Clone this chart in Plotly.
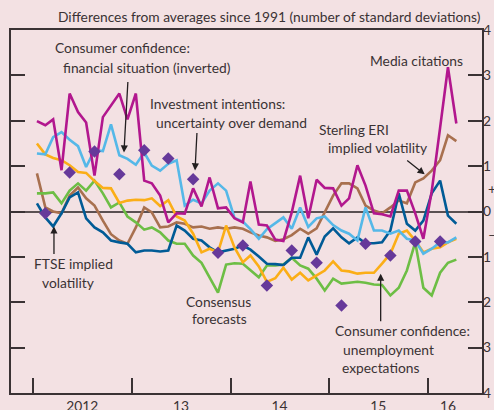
import pandas as pd
import plotly.graph_objects as go

# ---------------- data ----------------
months = pd.date_range("2012-01-01", "2016-04-01", freq="MS") + pd.Timedelta(days=14)
quarters = pd.date_range("2012-02-01", "2016-02-01", freq="3MS") + pd.Timedelta(days=14)

media_citations = [1.99, 1.90, 2.03, 0.91, 2.60, 2.19, 1.96, 0.79, 2.08, 2.35, 2.60, 2.03, 2.60, 0.68, 0.62, 0.35, -0.24, -0.04,
                   -0.05, 0.51, 0.11, 0.75, 0.07, 0.09, -0.15, -0.24, 0.66, -0.29, -0.31, -0.62, -0.65, -0.02, 0.79, -0.15, 0.70,
                   0.52, 0.51, 0.13, 0.29, 1.02, 0.57, -0.04, -0.06, -0.11, 0.46, 0.46, -0.04, -0.60, 0.45, 1.85, 3.18, 1.94]
financial_situation = [1.28, 1.26, 1.64, 1.75, 1.58, 1.44, 0.98, 1.35, 1.33, 1.92, 1.24, 1.16, 1.03, 1.30, 1.01, 0.90, 1.05, 1.13,
                       0.13, 0.26, 0.18, 0.46, 0.62, 0.46, -0.14, -0.22, -0.39, -0.60, -0.39, -0.26, -0.13, -0.38, 0.09, -0.34, -0.15,
                       -0.11, -0.30, -0.42, -0.49, -0.64, 0.09, -0.42, -0.42, -0.49, -0.42, -0.60, -0.64, -0.93, -0.82, -0.68, -0.68, -0.57]
unemployment_expectations = [1.50, 1.26, 1.18, 1.13, 1.02, 0.87, 0.85, 0.67, 0.52, 0.51, 0.19, 0.24, 0.26, 0.25, 0.29, 0.12, 0.25, -0.11,
                             -0.20, -0.49, -0.90, -0.82, -0.90, -0.31, -0.79, -1.12, -0.97, -1.21, -1.55, -1.47, -1.24, -1.50, -1.35, -1.52, -1.41,
                             -1.30, -1.10, -1.30, -1.32, -1.37, -1.35, -1.35, -1.15, -0.93, -0.49, -0.42, -0.64, -0.90, -0.82, -0.79, -0.68, -0.60]
consensus_forecasts = [0.40, 0.40, 0.42, 0.18, 0.46, 0.62, 0.46, 0.68, 0.40, 0.09, 0.20, -0.11, -0.24, -0.40, -0.35, -0.46, -0.64, -0.71,
                       -0.71, -0.97, -1.13, -1.46, -1.79, -1.17, -1.14, -1.15, -1.30, -1.45, -1.19, -1.19, -1.17, -1.02, -1.19, -1.26, -1.48,
                       -1.74, -1.48, -1.59, -1.57, -1.55, -1.57, -1.61, -1.62, -1.85, -1.68, -1.30, -0.68, -1.68, -1.85, -1.35, -1.13, -1.06]
ftse_volatility = [0.18, -0.13, -0.33, -0.04, 0.31, 0.42, -0.15, -0.35, -0.46, -0.64, -0.68, -0.71, -0.90, -0.86, -0.86, -0.88, -0.86, -0.31,
                   -0.42, -0.60, -0.64, -0.79, -0.90, -0.86, -0.82, -0.75, -0.84, -0.99, -1.15, -1.16, -1.18, -1.02, -1.02, -0.57, -0.95,
                   -0.55, -0.37, -0.57, -0.70, -0.57, -0.70, -0.70, -0.68, -0.42, 0.40, -0.27, -0.42, -0.20, 0.40, 0.68, -0.09, -0.27]
sterling_eri_volatility = [0.84, 0.09, 0.00, -0.04, 0.35, 0.53, 0.29, 0.13, -0.20, -0.50, -0.64, -0.71, -0.35, 0.09, -0.02, -0.35, -0.33, -0.24,
                           -0.27, -0.35, -0.33, -0.38, -0.35, -0.38, -0.35, -0.38, -0.46, -0.53, -0.57, -0.65, -0.61, -0.52, -0.38, -0.49, -0.37,
                           -0.02, 0.35, 0.62, 0.62, 0.51, 0.13, 0.02, -0.04, 0.09, 0.24, 0.18, 0.64, 0.73, 0.90, 1.13, 1.68, 1.55]
investment_uncertainty = [-0.04, 0.86, 1.32, 0.82, 1.35, 1.17, 0.71, -0.91, -0.75, -1.63, -0.86, -1.13, -2.07, -0.71, -0.97, -0.66, -0.66]

year_tick_vals = ["2012-07-01", "2013-07-01", "2014-07-01", "2015-07-01", "2016-03-15"]
year_tick_text = ["2012", "13", "14", "15", "16"]
y_tick_vals = [-4, -3, -2, -1, 0, 1, 2, 3, 4]
y_tick_text = ["4", "3", "2", "1", "0", "1", "2", "3", "4"]

# ---------------- style ----------------
BG = "#F3E1E3"
INK = "#3a3234"
FONT = "Lato"
FS = 13.8
W, H = 494, 410
L, R, T, B = 11, 12, 30, 17
PW, PH = W - L - R, H - T - B


def px(x):
    return (x - L) / PW


def py(y):
    return (H - B - y) / PH


fig = go.Figure()

series = [
    (sterling_eri_volatility, "#A8704F"),
    (consensus_forecasts, "#6DBE45"),
    (ftse_volatility, "#005B96"),
    (unemployment_expectations, "#FBAE17"),
    (financial_situation, "#55B8E8"),
    (media_citations, "#B2178E"),
]
for vals, col in series:
    fig.add_trace(go.Scatter(x=months, y=vals, mode="lines",
                             line=dict(color=col, width=2.6), showlegend=False))

fig.add_trace(go.Scatter(x=quarters, y=investment_uncertainty, mode="markers",
                         marker=dict(symbol="diamond", size=9.6, color="#66399A"),
                         showlegend=False))

fig.add_trace(go.Scatter(x=[months[0]], y=[0], yaxis="y2", mode="markers",
                         marker=dict(opacity=0), showlegend=False, hoverinfo="skip"))

fig.update_layout(
    width=W, height=H,
    margin=dict(l=L, r=R, t=T, b=B, autoexpand=False),
    paper_bgcolor=BG, plot_bgcolor=BG,
    font=dict(family=FONT, size=FS, color=INK),
    xaxis=dict(type="date", range=["2011-10-11", "2016-07-19"], automargin=False,
               showgrid=False, zeroline=False,
               showline=True, linecolor=INK, linewidth=1.5, mirror=True,
               tickvals=year_tick_vals, ticktext=year_tick_text, ticks="",
               tickfont=dict(size=FS, color=INK),
               minor=dict(ticks="inside", ticklen=15, tickwidth=1.5, tickcolor=INK,
                          tick0="2012-01-01", dtick="M12", showgrid=False)),
    yaxis=dict(range=[-4, 4], showgrid=False, automargin=False,
               zeroline=True, zerolinecolor="#5a5052", zerolinewidth=1.5,
               showline=True, linecolor=INK, linewidth=1.5, mirror=True,
               tickvals=y_tick_vals, ticks="inside", ticklen=14, tickwidth=1.5, tickcolor=INK,
               showticklabels=False),
    yaxis2=dict(range=[-4, 4], overlaying="y", side="right", showgrid=False, zeroline=False,
                automargin=False,
                tickvals=y_tick_vals, ticktext=y_tick_text, ticks="inside", ticklen=14,
                tickwidth=1.5, tickcolor=INK, tickfont=dict(size=FS, color=INK)),
)

ann = []
ann.append(dict(text="Differences from averages since 1991 (number of standard deviations)",
                xref="paper", yref="paper", x=px(483), y=py(17), xanchor="right", yanchor="middle",
                showarrow=False, font=dict(size=FS, color=INK)))

labels = [
    ("Consumer confidence:", 122, 48),
    ("financial situation (inverted)", 147, 67),
    ("Investment intentions:", 217, 103),
    ("uncertainty over demand", 231, 122),
    ("Media citations", 416, 61),
    ("Sterling ERI", 354, 129),
    ("implied volatility", 377, 147),
    ("FTSE implied", 73, 263),
    ("volatility", 68, 282),
    ("Consensus", 218, 301),
    ("forecasts", 219, 318),
    ("Consumer confidence:", 402, 330),
    ("unemployment", 388, 349),
    ("expectations", 380, 367),
]
for t, x, y in labels:
    ann.append(dict(text=t, xref="paper", yref="paper", x=px(x), y=py(y),
                    xanchor="center", yanchor="middle", showarrow=False,
                    font=dict(size=FS, color=INK)))

arrows = [
    ("2012-12-02", 1.30, 4, -72),
    ("2013-08-22", 0.905, 2, -39),
    ("2015-12-20", 0.82, -19, -15),
    ("2012-03-18", -0.33, 0, 29),
    ("2015-07-10", -1.37, 0, 49),
]
for x, y, ax, ay in arrows:
    ann.append(dict(text="", x=x, y=y, xref="x", yref="y", ax=ax, ay=ay,
                    showarrow=True, arrowhead=2, arrowsize=1.1, arrowwidth=1.3,
                    arrowcolor="#231f20", standoff=0))

for t, yv in [("+", 0.5), ("\u2013", -0.5)]:
    ann.append(dict(text=t, xref="paper", yref="y", x=1, y=yv, xanchor="left",
                    yanchor="middle", xshift=4, showarrow=False, font=dict(size=FS, color=INK)))

fig.update_layout(annotations=ann)
fig.write_html("out.html", config={"displayModeBar": False},
               post_script="document.body.style.margin='0';document.body.style.background='%s';" % BG)
